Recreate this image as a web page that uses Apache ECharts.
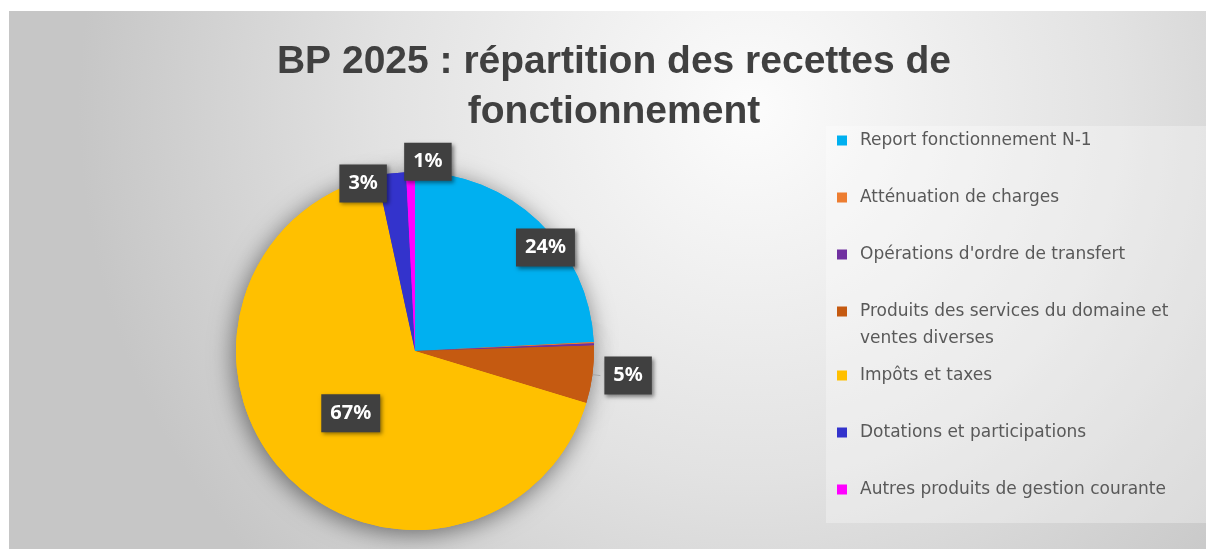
<!DOCTYPE html>
<html>
<head>
<meta charset="utf-8">
<script src="https://cdn.jsdelivr.net/npm/echarts@6/dist/echarts.min.js"></script>
<style>
    html, body { margin: 0; padding: 0; background: #fff; }
    #main { width: 1206px; height: 549px; }
</style>
</head>
<body>
<div id="main"></div>
<script type="text/javascript">
    // données du graphique
    var titleText = 'BP 2025 : répartition des recettes de\nfonctionnement';
    var categories = [
        'Report fonctionnement N-1',
        'Atténuation de charges',
        "Opérations d'ordre de transfert",
        'Produits des services du domaine et ventes diverses',
        'Impôts et taxes',
        'Dotations et participations',
        'Autres produits de gestion courante'
    ];
    var values = [24.2, 0.1, 0.2, 5.2, 66.9, 2.6, 0.8];
    var colors = ['#00B0F0', '#ED7D31', '#7030A0', '#C55A11', '#FFC000', '#3333CC', '#FF00FF'];

    // placement des étiquettes : angle (depuis midi, sens horaire) et distance en fraction du rayon
    var labelAngle = [51.6, null, null, null, 225.9, 342.8, 3.9];
    var labelDist = [0.93, null, null, null, 0.5, 0.98, 1.06];
    var outsideIndex = 3;

    var cx = 415, cy = 351, radius = 179;
    var legendFont = '"DejaVu Sans", "Noto Sans", sans-serif';

    var total = 0;
    for (var i = 0; i < values.length; i++) { total += values[i]; }

    var pieData = [];
    var shadowData = [];
    for (var i = 0; i < values.length; i++) {
        var item = { name: categories[i], value: values[i] };
        if (Math.round(values[i] / total * 100) < 1) {
            item.label = { show: false };
        } else if (i === outsideIndex) {
            item.label = { position: 'outside', distanceToLabelLine: 4 };
            item.labelLine = { show: true, length: 8, length2: 0, lineStyle: { color: '#a6a6a6', width: 1 } };
        }
        pieData.push(item);
        shadowData.push({ name: categories[i], value: values[i] });
    }

    var myChart = echarts.init(document.getElementById('main'));

    var option = {
        backgroundColor: '#ffffff',
        color: colors,
        animation: false,
        graphic: [
            {
                type: 'rect',
                z: 0,
                silent: true,
                shape: { x: 9, y: 11, width: 1197, height: 538 },
                style: {
                    fill: {
                        type: 'radial', x: 0.62, y: 0.18, r: 1.25,
                        colorStops: [
                            { offset: 0, color: '#fcfcfc' },
                            { offset: 0.55, color: '#e2e2e2' },
                            { offset: 1, color: '#c6c6c6' }
                        ]
                    }
                }
            },
            {
                type: 'rect',
                z: 1,
                silent: true,
                shape: { x: 826, y: 126, width: 380, height: 397 },
                style: { fill: 'rgba(255,255,255,0.3)' }
            }
        ],
        title: {
            text: titleText,
            left: 614,
            top: 37,
            padding: 0,
            textAlign: 'center',
            textStyle: {
                fontFamily: '"Liberation Sans Narrow", "Liberation Sans", sans-serif',
                fontSize: 39,
                fontWeight: 'bold',
                lineHeight: 50,
                color: '#404040'
            }
        },
        legend: {
            orient: 'vertical',
            left: 837,
            top: 112,
            padding: 0,
            itemGap: 0,
            itemWidth: 10,
            itemHeight: 10,
            icon: 'rect',
            selectedMode: false,
            textStyle: {
                fontFamily: legendFont,
                fontSize: 17,
                color: '#595959',
                lineHeight: 57,
                padding: [0, 0, 0, 8]
            },
            data: categories.map(function (name, i) {
                if (i !== outsideIndex) return name;
                return {
                    name: name,
                    textStyle: {
                        lineHeight: 51,
                        padding: [3, 0, 0, 8],
                        rich: {
                            a: { fontFamily: legendFont, fontSize: 17, color: '#595959', lineHeight: 51 },
                            b: { fontFamily: legendFont, fontSize: 17, color: '#595959', lineHeight: 3 }
                        }
                    }
                };
            }),
            formatter: function (name) {
                if (name === categories[outsideIndex]) {
                    return '{a|Produits des services du domaine et}\n{b|ventes diverses}';
                }
                return name;
            }
        },
        series: [
            {
                // ombre portée du camembert
                type: 'pie',
                z: 1,
                silent: true,
                center: [cx, cy],
                radius: radius,
                startAngle: 90,
                clockwise: true,
                label: { show: false },
                labelLine: { show: false },
                itemStyle: {
                    shadowBlur: 24,
                    shadowColor: 'rgba(0,0,0,0.5)',
                    shadowOffsetX: -2,
                    shadowOffsetY: 4
                },
                data: shadowData
            },
            {
                type: 'pie',
                z: 2,
                center: [cx, cy],
                radius: radius,
                startAngle: 90,
                clockwise: true,
                avoidLabelOverlap: false,
                itemStyle: { borderWidth: 0 },
                label: {
                    show: true,
                    position: 'inside',
                    formatter: function (p) { return Math.round(p.percent) + '%'; },
                    fontFamily: '"Noto Sans", sans-serif',
                    fontSize: 20,
                    fontWeight: 'bold',
                    color: '#ffffff',
                    lineHeight: 20,
                    backgroundColor: '#404040',
                    padding: [9, 9],
                    shadowColor: 'rgba(0,0,0,0.45)',
                    shadowBlur: 4,
                    shadowOffsetX: 2,
                    shadowOffsetY: 2
                },
                labelLine: { show: false },
                labelLayout: function (params) {
                    var a = labelAngle[params.dataIndex];
                    if (a == null) return {};
                    var d = labelDist[params.dataIndex] * radius;
                    var rad = a * Math.PI / 180;
                    return { x: cx + d * Math.sin(rad), y: cy - d * Math.cos(rad) };
                },
                emphasis: { disabled: true },
                data: pieData
            }
        ]
    };

    myChart.setOption(option);
</script>
</body>
</html>
